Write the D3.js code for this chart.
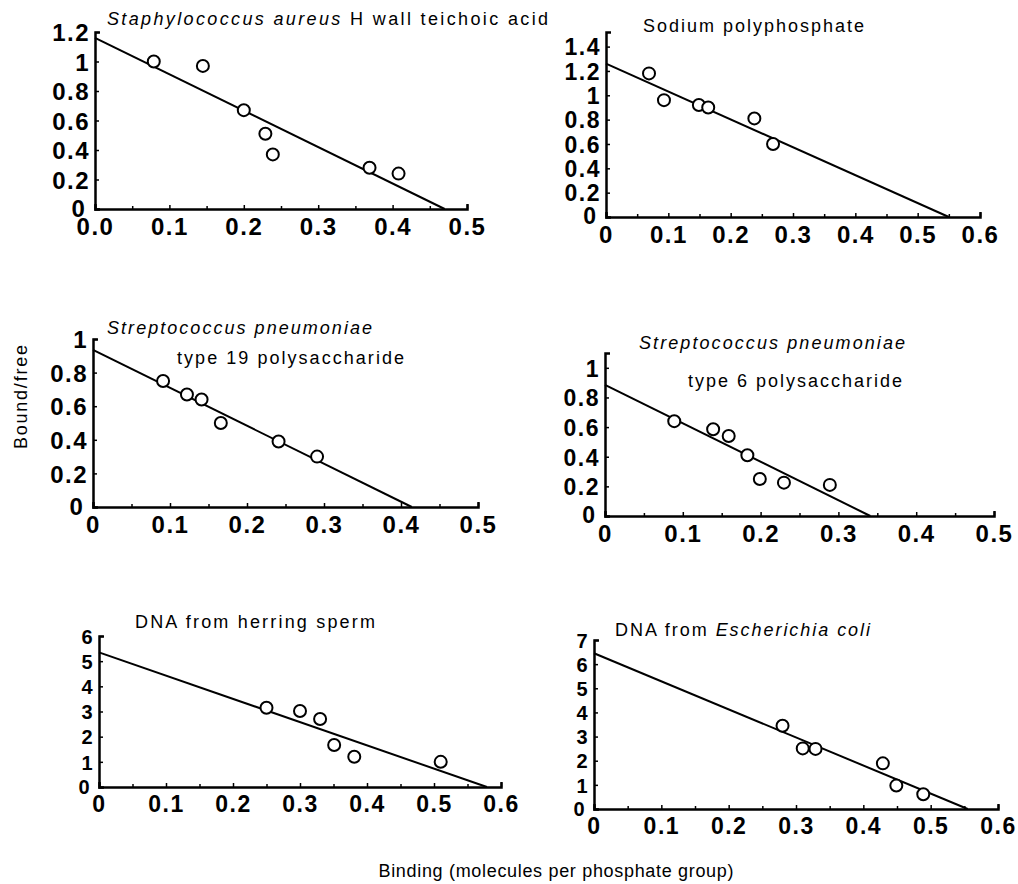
<!DOCTYPE html>
<html>
<head>
<meta charset="utf-8">
<script src="https://cdn.jsdelivr.net/npm/d3@7"></script>
<style>
body { margin: 0; background: #fff; }
.tick text { font-family: "Liberation Sans", Arial, sans-serif; font-weight: bold; fill: #000; letter-spacing: 1.5px; }
.title { font-family: "Liberation Sans", Arial, sans-serif; font-size: 18px; fill: #000; }
</style>
</head>
<body>
<svg id="chart" width="1018" height="884"></svg>
<script>
// values
var staphX = [0.079, 0.145, 0.200, 0.229, 0.239, 0.369, 0.408];
var staphY = [1.00, 0.97, 0.67, 0.51, 0.37, 0.28, 0.24];
var staphFit = [1.16, 0.47];          // [y intercept, x intercept]

var sodiumX = [0.069, 0.093, 0.149, 0.164, 0.238, 0.268];
var sodiumY = [1.18, 0.96, 0.92, 0.90, 0.81, 0.60];
var sodiumFit = [1.26, 0.55];

var type19X = [0.091, 0.122, 0.141, 0.166, 0.241, 0.291];
var type19Y = [0.75, 0.67, 0.64, 0.50, 0.39, 0.30];
var type19Fit = [0.935, 0.414];

var type6X = [0.089, 0.139, 0.159, 0.183, 0.199, 0.230, 0.289];
var type6Y = [0.64, 0.585, 0.54, 0.41, 0.25, 0.225, 0.21];
var type6Fit = [0.885, 0.341];

var herringX = [0.25, 0.30, 0.33, 0.351, 0.381, 0.51];
var herringY = [3.15, 3.02, 2.70, 1.67, 1.20, 1.00];
var herringFit = [5.35, 0.579];

var coliX = [0.28, 0.31, 0.329, 0.429, 0.449, 0.489];
var coliY = [3.45, 2.51, 2.49, 1.89, 0.97, 0.61];
var coliFit = [6.45, 0.555];

// ticks
var xTicks5 = [0, 0.1, 0.2, 0.3, 0.4, 0.5];
var xTicks6 = [0, 0.1, 0.2, 0.3, 0.4, 0.5, 0.6];
var xMinor5 = [0.05, 0.15, 0.25, 0.35, 0.45];
var xMinor6 = [0.05, 0.15, 0.25, 0.35, 0.45, 0.55];
var xLabelsStaph = ['0.0', '0.1', '0.2', '0.3', '0.4', '0.5'];
var xLabels5 = ['0', '0.1', '0.2', '0.3', '0.4', '0.5'];
var xLabels6 = ['0', '0.1', '0.2', '0.3', '0.4', '0.5', '0.6'];
var yTicks12 = [0, 0.2, 0.4, 0.6, 0.8, 1, 1.2];
var yLabels12 = ['0', '0.2', '0.4', '0.6', '0.8', '1', '1.2'];
var yTicks14 = [0, 0.2, 0.4, 0.6, 0.8, 1, 1.2, 1.4];
var yLabels14 = ['0', '0.2', '0.4', '0.6', '0.8', '1', '1.2', '1.4'];
var yTicks10 = [0, 0.2, 0.4, 0.6, 0.8, 1];
var yLabels10 = ['0', '0.2', '0.4', '0.6', '0.8', '1'];
var yTicksDna6 = [0, 1, 2, 3, 4, 5, 6];
var yLabelsDna6 = ['0', '1', '2', '3', '4', '5', '6'];
var yTicksDna7 = [0, 1, 2, 3, 4, 5, 6, 7];
var yLabelsDna7 = ['0', '1', '2', '3', '4', '5', '6', '7'];

// titles: lines of [text, italic] parts
var titleStaph = [[['Staphylococcus aureus', true], [' H wall teichoic acid', false]]];
var titleSodium = [[['Sodium polyphosphate', false]]];
var titleType19 = [[['Streptococcus pneumoniae', true]], [['type 19 polysaccharide', false]]];
var titleType6 = [[['Streptococcus pneumoniae', true]], [['type 6 polysaccharide', false]]];
var titleHerring = [[['DNA from herring sperm', false]]];
var titleColi = [[['DNA from ', false], ['Escherichia coli', true]]];

var panels = [
  {xs: staphX, ys: staphY, fit: staphFit, xDom: [0, 0.5], yDom: [0, 1.2],
   xt: xTicks5, xl: xLabelsStaph, xm: xMinor5, yt: yTicks12, yl: yLabels12, title: titleStaph,
   box: [95, 467, 32, 209], fs: [24, 24], tpos: [[107, 25, 441]]},
  {xs: sodiumX, ys: sodiumY, fit: sodiumFit, xDom: [0, 0.6], yDom: [0, 1.52],
   xt: xTicks6, xl: xLabels6, xm: xMinor6, yt: yTicks14, yl: yLabels14, title: titleSodium,
   box: [606, 980, 32, 217], fs: [24, 23], tpos: [[643, 32, 221]]},
  {xs: type19X, ys: type19Y, fit: type19Fit, xDom: [0, 0.5], yDom: [0, 1],
   xt: xTicks5, xl: xLabels5, xm: xMinor5, yt: yTicks10, yl: yLabels10, title: titleType19,
   box: [93, 478, 339, 507], fs: [24, 24], tpos: [[107, 334, 265], [177, 364, 227]]},
  {xs: type6X, ys: type6Y, fit: type6Fit, xDom: [0, 0.5], yDom: [0, 1.1],
   xt: xTicks5, xl: xLabels5, xm: xMinor5, yt: yTicks10, yl: yLabels10, title: titleType6,
   box: [605, 994, 353, 516], fs: [24, 23], tpos: [[639, 349, 266], [688, 387, 214]]},
  {xs: herringX, ys: herringY, fit: herringFit, xDom: [0, 0.6], yDom: [0, 6],
   xt: xTicks6, xl: xLabels6, xm: xMinor6, yt: yTicksDna6, yl: yLabelsDna6, title: titleHerring,
   box: [99, 501, 636, 787], fs: [23, 20], tpos: [[135, 628, 240]]},
  {xs: coliX, ys: coliY, fit: coliFit, xDom: [0, 0.6], yDom: [0, 7],
   xt: xTicks6, xl: xLabels6, xm: xMinor6, yt: yTicksDna7, yl: yLabelsDna7, title: titleColi,
   box: [594, 998, 640, 809], fs: [23, 20], tpos: [[615, 636, 255]]}
];

var svg = d3.select('#chart');

panels.forEach(function(p) {
  var x = d3.scaleLinear().domain(p.xDom).range([p.box[0], p.box[1]]);
  var y = d3.scaleLinear().domain(p.yDom).range([p.box[3], p.box[2]]);
  var g = svg.append('g');

  // minor x ticks
  g.append('g')
    .attr('transform', 'translate(0,' + p.box[3] + ')')
    .call(d3.axisBottom(x).tickValues(p.xm).tickSize(-3).tickSizeOuter(0).tickFormat(''))
    .call(function(a) { a.select('.domain').remove(); })
    .selectAll('line').attr('stroke-width', 1.5);

  var xa = g.append('g')
    .attr('transform', 'translate(0,' + p.box[3] + ')')
    .call(d3.axisBottom(x).tickValues(p.xt).tickSize(-4).tickSizeOuter(-5).tickPadding(9)
      .tickFormat(function(d, i) { return p.xl[i]; }));
  xa.selectAll('text').attr('font-size', p.fs[0]).attr('dy', '0.71em');
  xa.select('.domain').attr('stroke-width', 2.5);
  xa.selectAll('line').attr('stroke-width', 1.5);

  var ya = g.append('g')
    .attr('transform', 'translate(' + p.box[0] + ',0)')
    .call(d3.axisLeft(y).tickValues(p.yt).tickSize(-4).tickSizeOuter(-5).tickPadding(5)
      .tickFormat(function(d, i) { return p.yl[i]; }));
  ya.selectAll('text').attr('font-size', p.fs[1]).attr('dy', '0.36em');
  ya.selectAll('.tick text').filter(function(d) { return d === 0; })
    .attr('dy', '0.3em').attr('dx', '-0.15em');
  ya.select('.domain').attr('stroke-width', 2.5);
  ya.selectAll('line').attr('stroke-width', 1.5);

  // fitted line
  g.append('line')
    .attr('x1', x(0)).attr('y1', y(p.fit[0]))
    .attr('x2', x(p.fit[1])).attr('y2', y(0))
    .attr('stroke', '#000').attr('stroke-width', 2);

  g.selectAll('circle.pt')
    .data(d3.zip(p.xs, p.ys))
    .enter().append('circle')
    .attr('class', 'pt')
    .attr('cx', function(d) { return x(d[0]); })
    .attr('cy', function(d) { return y(d[1]); })
    .attr('r', 6)
    .attr('fill', '#fff')
    .attr('stroke', '#000')
    .attr('stroke-width', 2);

  p.title.forEach(function(line, i) {
    var t = g.append('text')
      .attr('class', 'title')
      .attr('x', p.tpos[i][0])
      .attr('y', p.tpos[i][1])
      .attr('textLength', p.tpos[i][2])
      .attr('lengthAdjust', 'spacing');
    line.forEach(function(part) {
      t.append('tspan')
        .attr('font-style', part[1] ? 'italic' : 'normal')
        .text(part[0]);
    });
  });
});

svg.append('text')
  .attr('class', 'title')
  .attr('font-size', 15)
  .attr('text-anchor', 'middle')
  .attr('transform', 'translate(27,397) rotate(-90)')
  .attr('textLength', 104)
  .attr('lengthAdjust', 'spacing')
  .text('Bound/free');

svg.append('text')
  .attr('class', 'title')
  .attr('font-size', 16)
  .attr('text-anchor', 'middle')
  .attr('x', 556)
  .attr('y', 877)
  .attr('textLength', 355)
  .attr('lengthAdjust', 'spacing')
  .text('Binding (molecules per phosphate group)');
</script>
</body>
</html>
